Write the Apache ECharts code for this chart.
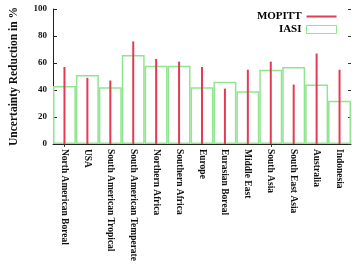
<!DOCTYPE html>
<html>
<head>
<meta charset="utf-8">
<script src="https://cdn.jsdelivr.net/npm/echarts@6/dist/echarts.min.js"></script>
<style>
  html, body { margin: 0; padding: 0; background: #fff; }
  #chart { width: 352px; height: 264px; }
</style>
</head>
<body>
<div id="chart"></div>
<script>
  // regions on the x axis
  var regions = ['North American Boreal', 'USA', 'South American Tropical', 'South American Temperate',
    'Northern Africa', 'Southern Africa', 'Europe', 'Eurasian Boreal', 'Middle East',
    'South Asia', 'South East Asia', 'Australia', 'Indonesia']
  // uncertainty reduction, %
  var mopitt = [57, 49, 47, 76, 63, 61, 57, 41, 55, 61, 44, 67, 55]
  var iasi = [43, 51, 42, 66, 58, 58, 42, 46, 39, 55, 57, 44, 32]
  var yTicks = [0, 20, 40, 60, 80, 100]

  var red = '#e63a52'
  var green = '#8fe68f'
  var font = 'Liberation Serif'

  var chart = echarts.init(document.getElementById('chart'))
  chart.setOption({
    animation: false,
    grid: { left: 53, right: 1, top: 9, bottom: 119 },
    legend: {
      orient: 'vertical',
      align: 'right',
      right: 10,
      top: 6,
      itemWidth: 30,
      itemHeight: 8,
      itemGap: 2,
      textStyle: { fontFamily: font, fontWeight: 'bold', fontSize: 11, color: '#000' },
      data: [
        { name: 'MOPITT', icon: 'path://M0,0 L30,0 L30,2 L0,2 Z', itemStyle: { color: red } },
        { name: 'IASI', icon: 'rect', itemStyle: { color: '#fff', borderColor: green, borderWidth: 1 } }
      ]
    },
    xAxis: [
      {
        type: 'category',
        data: regions,
        position: 'bottom',
        axisLine: { lineStyle: { color: '#222', width: 1 } },
        axisTick: { inside: true, alignWithLabel: true, length: 4, lineStyle: { color: '#222' } },
        axisLabel: {
          interval: 0, rotate: -90, margin: 5,
          fontFamily: font, fontWeight: 'bold', fontSize: 9.5, color: '#111'
        }
      },
      {
        // top mirror: ticks only, carries the MOPITT bars
        type: 'category',
        data: regions,
        position: 'top',
        axisLine: { show: false },
        axisTick: { show: true, inside: true, alignWithLabel: true, length: 3, lineStyle: { color: '#333' } },
        axisLabel: { show: false }
      }
    ],
    yAxis: [
      {
        type: 'value',
        min: 0, max: 100, interval: 20,
        name: 'Uncertainty Reduction in %',
        nameLocation: 'middle',
        nameRotate: 90,
        nameGap: 33,
        nameTextStyle: { fontFamily: font, fontWeight: 'bold', fontSize: 11.5, color: '#111' },
        axisLine: { show: true, lineStyle: { color: '#222' } },
        axisTick: { show: true, inside: true, length: 4, lineStyle: { color: '#222' } },
        axisLabel: {
          margin: 6, fontFamily: font, fontWeight: 'bold', fontSize: 9, color: '#111',
          formatter: function (v) { return yTicks.indexOf(v) >= 0 ? String(v) : '' }
        },
        splitLine: { show: false }
      },
      {
        type: 'value',
        min: 0, max: 100, interval: 20,
        position: 'right',
        axisLine: { show: false },
        axisTick: { show: true, inside: true, length: 3, lineStyle: { color: '#333' } },
        axisLabel: { show: false },
        splitLine: { show: false }
      }
    ],
    series: [
      {
        name: 'IASI',
        type: 'bar',
        xAxisIndex: 0,
        yAxisIndex: 0,
        data: iasi,
        barWidth: '100%',
        itemStyle: { color: 'rgba(0,0,0,0)', borderColor: green, borderWidth: 1.5 },
        z: 2
      },
      {
        name: 'MOPITT',
        type: 'bar',
        xAxisIndex: 1,
        yAxisIndex: 0,
        data: mopitt,
        barWidth: 2,
        itemStyle: { color: red },
        z: 3
      }
    ]
  })
</script>
</body>
</html>
